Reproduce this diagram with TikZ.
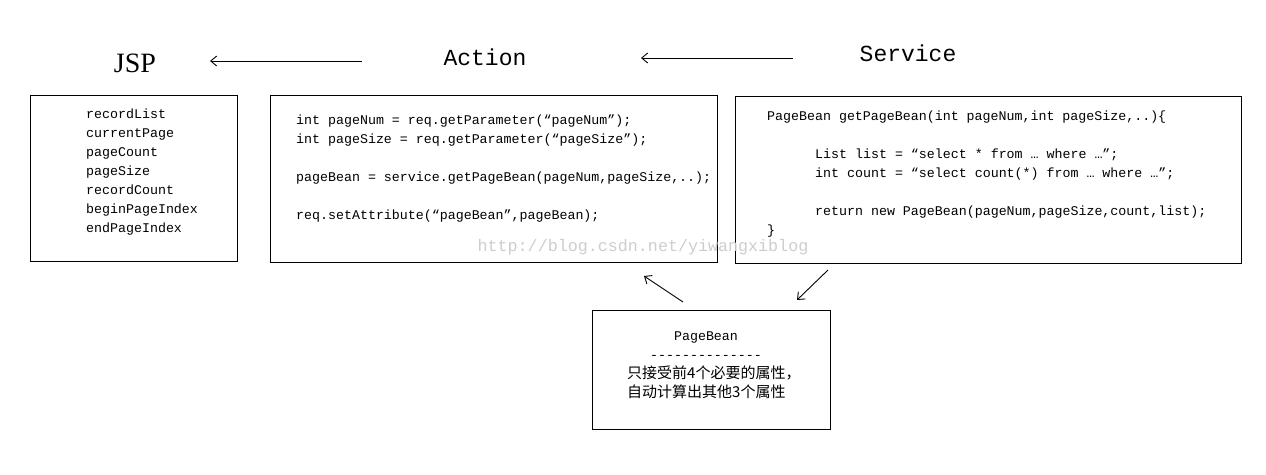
\documentclass[tikz,border=0pt]{standalone}
\usepackage{fontspec}
\setmainfont{Liberation Serif}
\setmonofont{Liberation Mono}
\newfontfamily\cjk{Noto Sans CJK SC}
\usepackage{tikz}
\usetikzlibrary{arrows.meta, positioning}
\definecolor{markgray}{RGB}{205, 205, 205}

\begin{document}
\begin{tikzpicture}[
    x=1pt, y=-1pt,
    box/.style={rectangle, draw=black, line width=0.9pt, inner sep=0pt, anchor=north west},
    code/.style={inner sep=0pt, anchor=north west, align=left, font=\ttfamily\fontsize{13.3}{19}\selectfont},
    title/.style={inner sep=0pt, font=\ttfamily\fontsize{23}{27}\selectfont},
    arrow/.style={-{Straight Barb[length=6pt, width=10pt]}, line width=0.9pt}
]
    \useasboundingbox (0,0) rectangle (1266,474);

    % layer titles
    \node[inner sep=0pt, font=\fontsize{28}{30}\selectfont] (jsp) at (135,63) {JSP};
    \node[title] (action) at (485,57) {Action};
    \node[title] (service) at (908,53) {Service};

    % boxes
    \node[box, minimum width=207pt, minimum height=166pt] (jspbox) at (30,95) {};
    \node[box, minimum width=447pt, minimum height=167pt] (actbox) at (270,95) {};
    \node[box, minimum width=506pt, minimum height=167pt] (srvbox) at (735,96) {};
    \node[box, minimum width=238pt, minimum height=119pt] (beanbox) at (592,310) {};

    \node[code] (jsptext) at (86,109) {recordList\\currentPage\\pageCount\\pageSize\\recordCount\\beginPageIndex\\endPageIndex};

    \node[code] (acttext) at (296,115) {int pageNum = req.getParameter(“pageNum”);\\
        int pageSize = req.getParameter(“pageSize”);\\[19pt]
        pageBean = service.getPageBean(pageNum,pageSize,..);\\[19pt]
        req.setAttribute(“pageBean”,pageBean);};

    \node[code] (srvtext) at (767,111) {PageBean getPageBean(int pageNum,int pageSize,..)\{\\[19pt]
        \hspace*{48pt}List list = “select * from … where …”;\\
        \hspace*{48pt}int count = “select count(*) from … where …”;\\[19pt]
        \hspace*{48pt}return new PageBean(pageNum,pageSize,count,list);\\
        \}};

    \node[inner sep=0pt, font=\ttfamily\fontsize{13.3}{19}\selectfont] (beantitle) at (706,337) {PageBean};
    \node[inner sep=0pt, font=\ttfamily\fontsize{13.3}{19}\selectfont, below=12pt of beantitle] (beanrule) {--------------};
    \node[inner sep=0pt, anchor=north west, align=left, font=\cjk\fontsize{15}{19}\selectfont] (beannote) at (627,366) {只接受前4个必要的属性，\\自动计算出其他3个属性};

    % watermark
    \node[inner sep=0pt, text=markgray, font=\ttfamily\fontsize{16.7}{20}\selectfont] (mark) at (643,247) {http://blog.csdn.net/yiwangxiblog};

    % arrows
    \coordinate (a1s) at (362,61);
    \coordinate (a1e) at (210,61);
    \coordinate (a2s) at (793,58);
    \coordinate (a2e) at (641,58);
    \coordinate (a3s) at (683,302);
    \coordinate (a3e) at (644,276);
    \coordinate (a4s) at (828,270);
    \coordinate (a4e) at (797,300);

    \draw[arrow] (a1s) -- (a1e);
    \draw[arrow] (a2s) -- (a2e);
    \draw[arrow] (a3s) -- (a3e);
    \draw[arrow] (a4s) -- (a4e);
\end{tikzpicture}
\end{document}
